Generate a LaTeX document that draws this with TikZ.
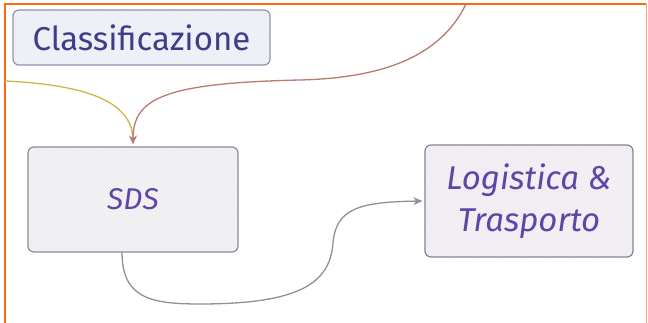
\documentclass[tikz,border=0pt]{standalone}
\usepackage{fontspec}
\setmainfont{Fira Sans}
\usetikzlibrary{arrows.meta,patterns,positioning}

\definecolor{frameorange}{HTML}{FF6A10}
\definecolor{inkblue}{HTML}{3F3D88}
\definecolor{inkpurple}{HTML}{5E45A6}
\definecolor{edgeblue}{HTML}{8E93AC}
\definecolor{edgegray}{HTML}{8C8A94}
\definecolor{edgeviolet}{HTML}{8A8099}
\definecolor{fillblue}{HTML}{F3F5FC}
\definecolor{fillgray}{HTML}{F6F5F8}
\definecolor{fillviolet}{HTML}{F7F4FA}
\definecolor{linkyellow}{HTML}{CDB54A}
\definecolor{linkred}{HTML}{B87A72}
\definecolor{linkgray}{HTML}{928E9A}

\begin{document}
\begin{tikzpicture}
    [
        x=1pt, y=1pt,
        Box1/.style={rectangle, rounded corners=6pt, line width=1.2pt, align=center,
            pattern=north east lines},
        Link1/.style={line width=1.3pt, line cap=round},
        Tip1/.style={-{Stealth[length=9pt, width=8pt]}}
    ]

    \useasboundingbox (0,0) rectangle (648,323);

    % frame
    \draw[frameorange, line width=2.2pt] (5,0) -- (5,319) -- (646,319);
    \draw[frameorange!60, line width=1pt] (646,319) -- (646,0);

    \node[Box1, draw=edgeblue, preaction={fill=fillblue}, pattern color=edgeblue!22,
        minimum width=257pt, minimum height=55pt, text=inkblue,
        font=\fontsize{33}{36}\selectfont] (classificazione) at (141.5,285.5) {Classificazione};
    \node[Box1, draw=edgegray, preaction={fill=fillgray}, pattern color=edgegray!22,
        minimum width=210pt, minimum height=105pt, text=inkpurple,
        font=\fontsize{30}{34}\selectfont\itshape] (sds) at (133,123.5) {SDS};
    \node[Box1, draw=edgeviolet, preaction={fill=fillviolet}, pattern color=edgeviolet!22,
        minimum width=208pt, minimum height=112pt, text=inkpurple,
        font=\fontsize{33}{42}\selectfont\itshape] (logistica) at (529,122) {Logistica \&\\Trasporto};

    \coordinate (leftIn) at (5,242);
    \coordinate (topIn) at (466,319);
    \coordinate (sdsOut) at (122,71);

    % incoming links
    \draw[Link1, linkyellow] (leftIn) .. controls (90,238) and (133,220) .. ([yshift=6pt]sds.north);
    \draw[Link1, linkred, Tip1] (topIn) .. controls (440,265) and (380,245) .. (300,243)
        .. controls (165,240) and (133,225) .. ([yshift=2pt]sds.north);

    % outgoing link
    \draw[Link1, linkgray, Tip1] (sdsOut) .. controls (122,25) and (150,19) .. (200,19)
        .. controls (300,19) and (330,40) .. (333,80)
        .. controls (336,115) and (360,121) .. ([xshift=-2pt]logistica.west);
\end{tikzpicture}
\end{document}
